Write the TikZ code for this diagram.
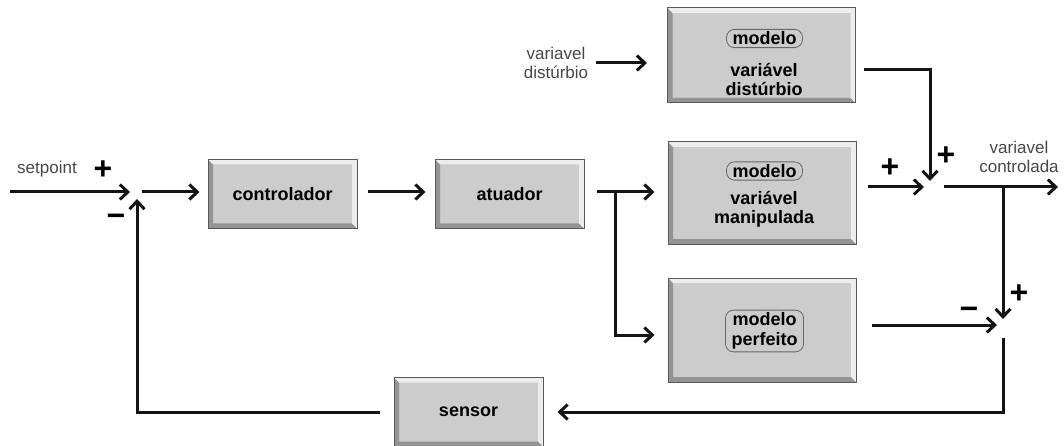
\documentclass[tikz,border=0pt]{standalone}
\usepackage{fontspec}
\setmainfont{Liberation Sans}
\usetikzlibrary{arrows.meta,positioning,calc}

\tikzset{
  bevel/.style={path picture={
    % dark strips on the left and bottom edges
    \fill[black!42] (path picture bounding box.north west)
      -- ([xshift=5pt,yshift=-5pt]path picture bounding box.north west)
      -- ([xshift=5pt,yshift=5pt]path picture bounding box.south west)
      -- ([xshift=-5pt,yshift=5pt]path picture bounding box.south east)
      -- (path picture bounding box.south east)
      -- (path picture bounding box.south west) -- cycle;
    % light strips on the top and right edges
    \fill[black!7] (path picture bounding box.north west)
      -- (path picture bounding box.north east)
      -- (path picture bounding box.south east)
      -- ([xshift=-5pt,yshift=5pt]path picture bounding box.south east)
      -- ([xshift=-5pt,yshift=-5pt]path picture bounding box.north east)
      -- ([xshift=5pt,yshift=-5pt]path picture bounding box.north west) -- cycle;
  }},
  blk/.style={draw=black!65,line width=1pt,fill=black!20,bevel,inner sep=0pt,
    minimum width=149pt,minimum height=69pt,align=center,
    font=\fontsize{18}{19}\selectfont\bfseries},
  mdl/.style={blk,minimum width=188pt,minimum height=102pt},
  boxtxt/.style={align=center,inner sep=0pt,font=\fontsize{18}{19}\selectfont\bfseries},
  tag/.style={draw=black!60,line width=0.8pt,rounded corners=8pt,align=center,
    inner xsep=6pt,inner ysep=2.5pt,font=\fontsize{18}{20}\selectfont\bfseries},
  lbl/.style={align=center,inner sep=2pt,text=black!72,font=\fontsize{17}{19}\selectfont},
  sgn/.style={inner sep=0pt,font=\fontsize{32}{32}\selectfont\bfseries},
  wire/.style={line width=3pt,black!92},
  flow/.style={wire,->}
}

\begin{document}
\begin{tikzpicture}[x=1pt,y=-1pt,>={Straight Barb[length=8pt,width=15pt]}]
  \useasboundingbox (0,0) rectangle (1064,446);

  % blocks
  \node[blk](ctrl) at (282.5,194) {controlador};
  \node[blk](atu) at (509.5,194) {atuador};
  \node[blk](sens) at (468.5,412) {sensor};
  \node[mdl,minimum height=95pt](dist) at (761.5,55.5) {};
  \node[mdl](manip) at (762,193) {};
  \node[mdl,minimum height=104pt](perf) at (762,330) {};

  % model tags
  \node[tag](distTag) at (764.5,38.5) {modelo};
  \node[boxtxt](distTxt) at (764,79) {variável\\distúrbio};
  \node[tag](manipTag) at (764.5,171) {modelo};
  \node[boxtxt](manipTxt) at (764,209) {variável\\manipulada};
  \node[tag](perfTag) at (764.5,331) {modelo\\perfeito};

  % summing points and free ends
  \coordinate (sum1) at (137,192);
  \coordinate (sum2) at (930,187);
  \coordinate (sum3) at (1003,325);
  \coordinate (spIn) at (10,192);
  \coordinate (split) at (615,192);
  \coordinate (tap) at (1003,187);
  \coordinate (yOut) at (1058,187);

  % signal labels
  \node[lbl](spLbl) at (47,169) {setpoint};
  \node[lbl](dLbl) at (556,63) {variavel\\distúrbio};
  \node[lbl](yLbl) at (1019,157) {variavel\\controlada};

  % signs
  \node[sgn](s1p) at (103,170) {+};
  \node[sgn](s1m) at (116,220) {−};
  \node[sgn](s2a) at (890,168) {+};
  \node[sgn](s2b) at (946,156) {+};
  \node[sgn](s3p) at (1019,294) {+};
  \node[sgn](s3m) at (969,313) {−};

  % forward path
  \draw[flow] (spIn) -- ([xshift=-7pt]sum1);
  \draw[flow,shorten >=8pt] ([xshift=5pt]sum1) -- (ctrl.west |- sum1);
  \draw[flow,shorten <=10pt,shorten >=9pt] (ctrl.east |- sum1) -- (atu.west |- sum1);
  \draw[wire,shorten <=12pt] (atu.east |- split) -- (split);
  \draw[flow,shorten >=13pt] (split) -- (manip.west |- split);
  \draw[flow,shorten >=13pt] (split) |- ([yshift=-5pt]perf.west);

  % disturbance
  \draw[flow,shorten <=6pt,shorten >=20pt] (dLbl.east) -- (dist.west |- dLbl.east);
  \draw[flow,shorten <=8pt] ([yshift=-14pt]dist.east) -| ([yshift=6pt]sum2);
  \draw[flow,shorten <=11pt] (manip.east |- sum2) -- ([xshift=-6pt]sum2);
  \draw[flow] ([xshift=14pt]sum2) -- (yOut);

  % model error and feedback
  \draw[flow] (tap) -- ([yshift=6pt]sum3);
  \draw[flow,shorten <=15pt] (perf.east |- sum3) -- ([xshift=-6pt]sum3);
  \draw[flow,shorten >=14pt] ([yshift=-13pt]sum3) |- (sens.east);
  \draw[flow,shorten <=14pt] (sens.west) -| ([yshift=-7pt]sum1);
\end{tikzpicture}
\end{document}
